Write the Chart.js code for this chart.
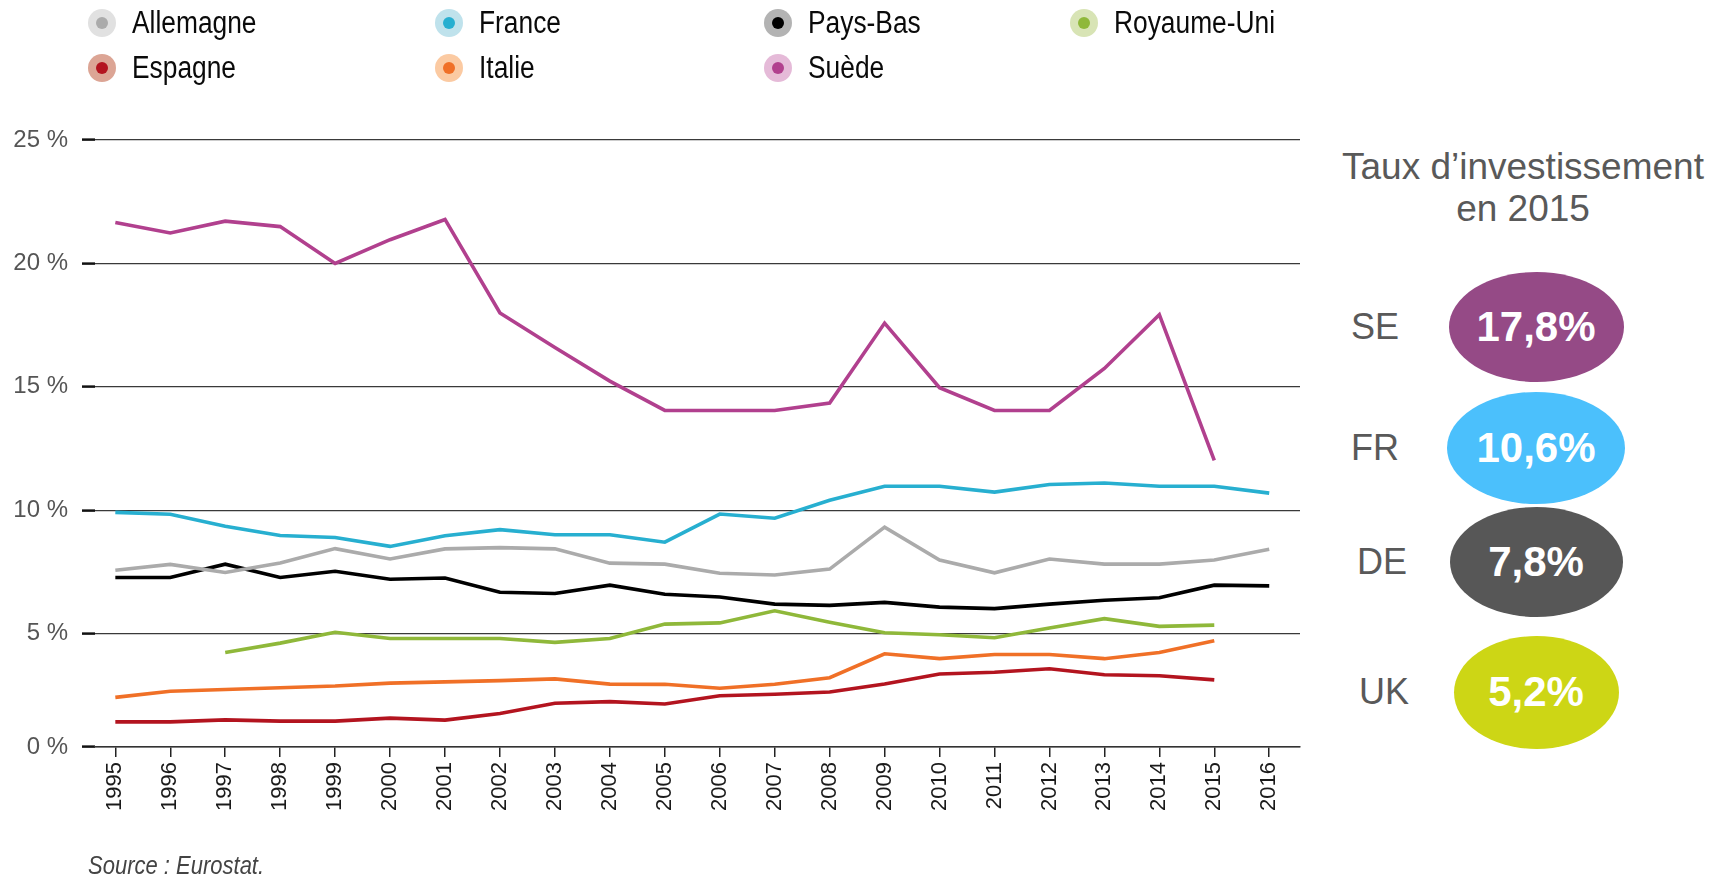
<!DOCTYPE html>
<html lang="fr">
<head>
<meta charset="utf-8">
<title>Taux d'investissement</title>
<script src="https://cdn.jsdelivr.net/npm/chart.js@4.4.1/dist/chart.umd.min.js"></script>
<style>
  body { margin: 0; background: #fff; font-family: "Liberation Sans", Arial, sans-serif; }
  #page { position: relative; width: 1720px; height: 878px; overflow: hidden; }
  #chartBox { position: absolute; left: 0; top: 0; width: 1310px; height: 878px; }
  .legend-item { position: absolute; display: flex; align-items: center; transform: translateY(-50%);
    font-size: 31px; color: #0a0a0a; white-space: nowrap; }
  .legend-item .txt { display: inline-block; transform: scaleX(0.85); transform-origin: left center; }
  .legend-dot { width: 28px; height: 28px; border-radius: 50%; margin-right: 16px; display: flex; align-items: center; justify-content: center; }
  .legend-dot span { width: 12px; height: 12px; border-radius: 50%; }
  .panel-title { position: absolute; left: 1330px; width: 386px; top: 146px; text-align: center; font-size: 37px; line-height: 42px; color: #595959; }
  .code { position: absolute; font-size: 36px; color: #595959; transform: translate(-50%, -50%); }
  .bubble { position: absolute; border-radius: 50%; display: flex; align-items: center; justify-content: center;
    color: #fff; font-weight: bold; font-size: 42px; }
  #source { position: absolute; left: 88px; top: 851px; font-style: italic; font-size: 25px; color: #444;
    transform: scaleX(0.88); transform-origin: left center; white-space: nowrap; }
</style>
</head>
<body>
<div id="page">
  <div id="chartBox"><canvas id="investChart" width="1310" height="878"></canvas></div>
  <div id="legend"></div>
  <div class="panel-title">Taux d’investissement<br>en 2015</div>
  <div id="panel"></div>
  <div id="source">Source : Eurostat.</div>
</div>

<script>
  // années et séries (% du PIB)
  const years = [1995, 1996, 1997, 1998, 1999, 2000, 2001, 2002, 2003, 2004, 2005,
    2006, 2007, 2008, 2009, 2010, 2011, 2012, 2013, 2014, 2015, 2016];

  const allemagne = [7.56, 7.80, 7.47, 7.86, 8.44, 8.02, 8.43, 8.48, 8.43, 7.85, 7.81,
    7.44, 7.37, 7.61, 9.31, 7.98, 7.46, 8.02, 7.81, 7.81, 7.98, 8.41];
  const france = [9.91, 9.83, 9.35, 8.97, 8.89, 8.53, 8.96, 9.21, 9.00, 9.00, 8.70,
    9.84, 9.67, 10.40, 10.97, 10.97, 10.73, 11.04, 11.10, 10.97, 10.97, 10.69];
  const paysBas = [7.27, 7.27, 7.81, 7.27, 7.52, 7.20, 7.25, 6.67, 6.62, 6.96, 6.59,
    6.48, 6.19, 6.14, 6.26, 6.07, 6.01, 6.19, 6.35, 6.45, 6.96, 6.93];
  const royaumeUni = [null, null, 4.23, 4.61, 5.05, 4.80, 4.80, 4.80, 4.64, 4.80, 5.38,
    5.43, 5.92, 5.46, 5.03, 4.95, 4.83, 5.22, 5.60, 5.29, 5.34, null];
  const espagne = [1.42, 1.42, 1.50, 1.45, 1.45, 1.57, 1.49, 1.76, 2.17, 2.24, 2.14,
    2.48, 2.54, 2.63, 2.95, 3.36, 3.43, 3.57, 3.33, 3.29, 3.12, null];
  const italie = [2.41, 2.66, 2.73, 2.80, 2.87, 2.99, 3.04, 3.09, 3.16, 2.95, 2.94,
    2.78, 2.94, 3.21, 4.18, 3.98, 4.15, 4.15, 3.98, 4.23, 4.71, null];
  const suede = [21.66, 21.23, 21.71, 21.49, 20.00, 20.96, 21.78, 17.99, 16.59, 15.23, 14.04,
    14.04, 14.04, 14.34, 17.58, 14.96, 14.04, 14.04, 15.74, 17.92, 12.02, null];

  const seriesNames = ['Allemagne', 'France', 'Pays-Bas', 'Royaume-Uni', 'Espagne', 'Italie', 'Suède'];
  const seriesData = [allemagne, france, paysBas, royaumeUni, espagne, italie, suede];
  const lineColors = ['#ababab', '#27afd0', '#000000', '#8fb83a', '#b3141f', '#f07027', '#b1408e'];
  const haloColors = ['#e1e1e1', '#bfe2ec', '#b3b3b3', '#d8e4b5', '#dca595', '#fbcaa2', '#e5bad8'];

  // graduations (la ligne de base du graphique d'origine est un peu au-dessus de 0)
  const yTicks = [0, 5, 10, 15, 20, 25];
  const yBase = 0.4;

  // encadré de droite
  const panelCodes = ['SE', 'FR', 'DE', 'UK'];
  const panelValues = ['17,8%', '10,6%', '7,8%', '5,2%'];
  const panelColors = ['#954a86', '#4bc0fc', '#575757', '#cdd615'];

  // légende
  const legendPos = [[88, 23], [435, 23], [764, 23], [1070, 23], [88, 68], [435, 68], [764, 68]];
  const legendBox = document.getElementById('legend');
  seriesNames.forEach((name, i) => {
    const item = document.createElement('div');
    item.className = 'legend-item';
    item.style.left = legendPos[i][0] + 'px';
    item.style.top = legendPos[i][1] + 'px';
    item.innerHTML = `<div class="legend-dot" style="background:${haloColors[i]}"><span style="background:${lineColors[i]}"></span></div><span class="txt">${name}</span>`;
    legendBox.appendChild(item);
  });

  // encadré
  const panelPos = [[1375, 327, 175, 110], [1375, 448, 178, 112], [1382, 562, 173, 110], [1384, 692, 165, 113]];
  const panel = document.getElementById('panel');
  panelCodes.forEach((code, i) => {
    const [lx, cy, w, h] = panelPos[i];
    panel.innerHTML += `<div class="code" style="left:${lx}px;top:${cy}px">${code}</div>
      <div class="bubble" style="left:${1536 - w / 2}px;top:${cy - h / 2}px;width:${w}px;height:${h}px;background:${panelColors[i]}">${panelValues[i]}</div>`;
  });

  new Chart(document.getElementById('investChart'), {
    type: 'line',
    data: {
      datasets: seriesData.map((d, i) => ({
        label: seriesNames[i],
        data: d.map((v, k) => ({ x: years[k], y: v })),
        borderColor: lineColors[i],
        backgroundColor: lineColors[i],
        borderWidth: 3.6,
        pointRadius: 0,
        tension: 0,
        spanGaps: false
      }))
    },
    options: {
      responsive: false,
      animation: false,
      layout: { padding: { top: 140, right: 10, bottom: 0, left: 0 } },
      plugins: { legend: { display: false }, tooltip: { enabled: false } },
      scales: {
        x: {
          type: 'linear',
          min: 1994.63,
          max: 2016.56,
          afterFit: s => { s.height = 131; },
          afterBuildTicks: s => { s.ticks = years.map(v => ({ value: v })); },
          grid: { display: true, drawOnChartArea: false, drawTicks: true, tickLength: 10, color: '#222', lineWidth: 1.5 },
          border: { display: true, color: '#333', width: 1.5 },
          ticks: {
            autoSkip: false, maxRotation: 90, minRotation: 90, padding: 5,
            color: '#1a1a1a', font: { family: 'Liberation Sans', size: 22 },
            callback: v => String(v)
          }
        },
        y: {
          min: yBase,
          max: 25,
          afterFit: s => { s.width = 95; },
          afterBuildTicks: s => { s.ticks = yTicks.map(v => ({ value: v === 0 ? yBase : v })); },
          grid: { color: '#3a3a3a', lineWidth: 1.2, drawTicks: true, tickLength: 13, tickColor: '#111', tickWidth: 2.5 },
          border: { display: false },
          ticks: {
            padding: 14,
            color: '#555',
            font: { family: 'Liberation Sans', size: 24 },
            callback: v => (v < 1 ? 0 : v) + ' %'
          }
        }
      }
    }
  });
</script>
</body>
</html>
